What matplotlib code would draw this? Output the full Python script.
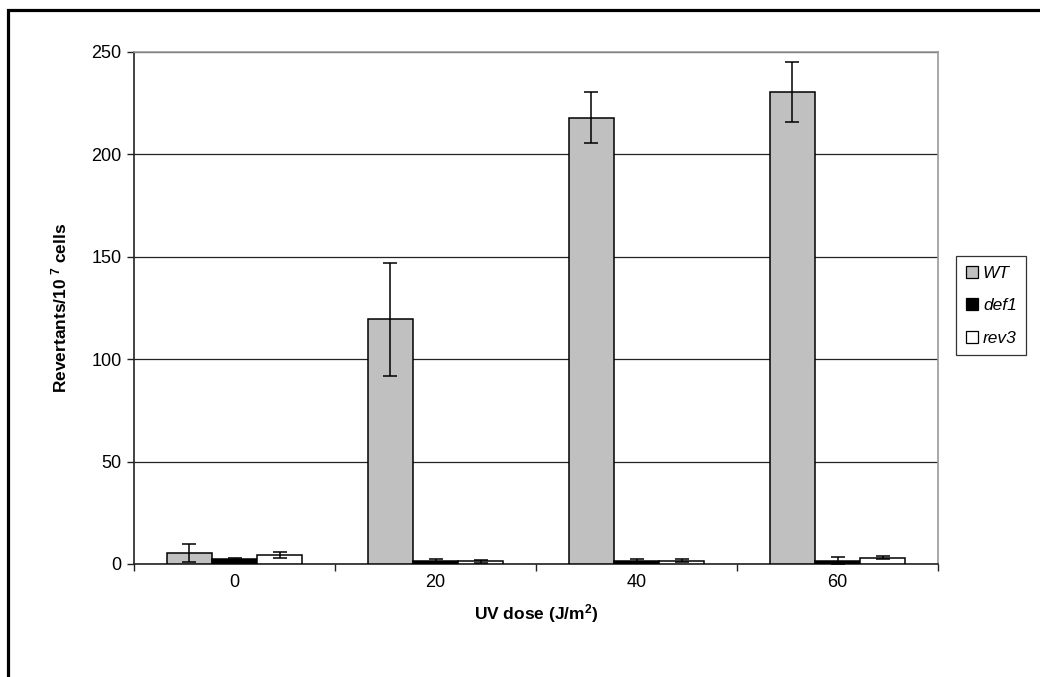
import matplotlib
matplotlib.use("Agg")
import matplotlib.pyplot as plt
import numpy as np
from matplotlib.lines import Line2D
from matplotlib.patches import Patch

plt.rcParams['font.family'] = ['Liberation Sans', 'DejaVu Sans']
plt.rcParams['mathtext.default'] = 'regular'

categories = ['0', '20', '40', '60']
series = ['WT', 'def1', 'rev3']
wt_values = [5.5, 119.5, 218.0, 230.5]
wt_err = [4.5, 27.5, 12.5, 14.5]
def1_values = [2.3, 1.5, 1.5, 1.5]
def1_err = [0.7, 0.7, 0.7, 2.0]
rev3_values = [4.5, 1.3, 1.5, 3.1]
rev3_err = [1.5, 0.7, 0.7, 0.7]
yticks = [0, 50, 100, 150, 200, 250]

W, H = 1040, 677
fig = plt.figure(figsize=(W/100, H/100), dpi=100)
ax = fig.add_axes([134/W, (H-564)/H, (938-134)/W, (564-52)/H])

x = np.arange(len(categories))
bw = 0.224
colors = ['#C0C0C0', '#000000', '#FFFFFF']
vals = [wt_values, def1_values, rev3_values]
errs = [wt_err, def1_err, rev3_err]
for i, (v, e, c, name) in enumerate(zip(vals, errs, colors, series)):
    ax.bar(x + (i-1)*bw, v, width=bw, color=c, edgecolor='black', linewidth=1.1,
           yerr=e, error_kw=dict(ecolor='black', elinewidth=1.1, capsize=4.7, capthick=1.1),
           zorder=3, label=name)

ax.set_xlim(-0.5, 3.5)
ax.set_ylim(0, 250)
ax.set_yticks(yticks)
ax.yaxis.grid(True, color='#222222', linewidth=0.9, zorder=0)
ax.set_axisbelow(True)
ax.set_xticks(x)
ax.set_xticklabels(categories)
ax.tick_params(axis='x', which='major', length=0, pad=7, labelsize=13)
ax.set_xticks(np.arange(-0.5, 4.0, 1.0), minor=True)
ax.tick_params(axis='x', which='minor', length=5, width=1, direction='out', color='#222222')
ax.tick_params(axis='y', length=5, width=1, direction='out', color='#222222', labelsize=13, pad=4)

for s in ['top', 'right']:
    ax.spines[s].set_color('#999999')
    ax.spines[s].set_linewidth(1.2)
for s in ['left', 'bottom']:
    ax.spines[s].set_color('#222222')
    ax.spines[s].set_linewidth(1.2)

ax.set_ylabel('Revertants/10$^{\\ 7}$ cells', fontsize=12.5, fontweight='bold', labelpad=16)
ax.set_xlabel('UV dose (J/m$^{2}$)', fontsize=12.5, fontweight='bold', labelpad=8)

handles = [Patch(facecolor=c, edgecolor='black', linewidth=0.9) for c in colors]
leg = fig.legend(handles, series, loc='upper left',
                 bbox_to_anchor=(956/W, (H-256)/H), frameon=True, fancybox=False,
                 prop=dict(style='italic', size=12.5), handlelength=0.7, handleheight=0.7,
                 handletextpad=0.3, labelspacing=1.0, borderpad=0.55, borderaxespad=0)
leg.get_frame().set_edgecolor('black')
leg.get_frame().set_linewidth(0.9)

# outer frame (cropped on right and bottom)
fig.add_artist(Line2D([7.5/W, 7.5/W, 1.2], [-0.2, (H-9.5)/H, (H-9.5)/H],
                      transform=fig.transFigure, color='black', linewidth=2.3,
                      solid_joinstyle='miter'))

fig.savefig('out.png', dpi=100)
